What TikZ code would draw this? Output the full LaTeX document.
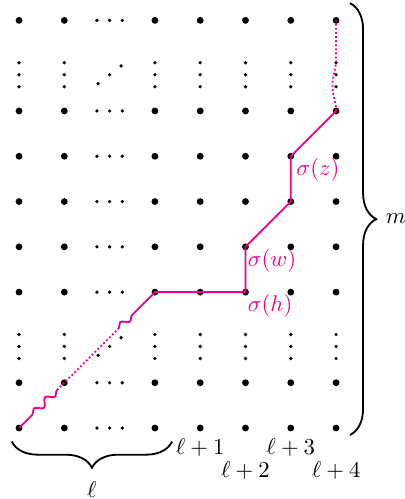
\documentclass[tikz,border=0pt]{standalone}
\usetikzlibrary{calc,decorations.pathmorphing,decorations.pathreplacing}
\definecolor{pathpink}{RGB}{236,0,140}

\begin{document}
\begin{tikzpicture}[x=0.7cm,y=0.7cm,
  pth/.style={thick,pathpink},
  wiggle/.style={decorate,decoration={snake,amplitude=1.5pt,segment length=7pt}},
  lbl/.style={pathpink,anchor=north west,inner sep=0.8pt},
  bracedown/.style={thick,decorate,decoration={brace,amplitude=11.5pt,mirror}},
  braceright/.style={thick,decorate,decoration={brace,amplitude=11.5pt}}]
\useasboundingbox (-0.42,-1.567) rectangle (8.50,9.45);
% grid points
\foreach \i in {0,...,7} {\foreach \j in {0,...,9} {\coordinate (p-\i-\j) at (\i,\j);}}
% big dots
\foreach \i in {0,1,3,4,5,6,7} {\foreach \j in {0,1,3,4,5,6,7,9} {\fill (p-\i-\j) circle (1.5pt);}}
% small dots standing for the missing rows and columns
\foreach \j in {0,1,3,4,5,6,7,9} {\foreach \d in {-1,0,1} {\fill ($(p-2-\j)+(\d*0.28,0)$) circle (0.8pt);}}
\foreach \i in {0,1,3,4,5,6,7} {\foreach \j in {2,8} {\foreach \d in {-1,0,1} {\fill ($(p-\i-\j)+(0,\d*0.265-0.2)$) circle (0.8pt);}}}
\foreach \j in {2,8} {\foreach \d in {-1,0,1} {\fill ($(p-2-\j)+(\d*0.254,\d*0.196-0.2)$) circle (0.8pt);}}
% the path
\coordinate (a1) at ($(p-0-0)!0.1!(p-3-3)$);
\coordinate (a2) at ($(p-0-0)!0.28!(p-3-3)$);
\coordinate (a3) at ($(p-0-0)!0.735!(p-3-3)$);
\coordinate (a4) at ($(p-0-0)!0.85!(p-3-3)$);
\draw[pth] (p-0-0) -- (a1);
\draw[pth,wiggle] (a1) -- (a2);
\draw[pth,densely dotted] (a2) -- (a3);
\draw[pth,wiggle] (a3) -- (a4);
\draw[pth] (a4) -- (p-3-3) -- (p-5-3) -- (p-5-4) -- (p-6-5) -- (p-6-6) -- (p-7-7);
\draw[pth,densely dotted,decorate,decoration={snake,amplitude=1.6pt,segment length=36pt}] (p-7-7) -- (p-7-9);
\node[lbl,xshift=1.5pt] (sz) at (p-6-6) {$\sigma(z)$};
\node[lbl] (sw) at (p-5-4) {$\sigma(w)$};
\node[lbl] (sh) at (p-5-3) {$\sigma(h)$};
% column labels
\node (c1) at ($(p-4-0)+(0,-0.44)$) {$\ell+1$};
\node (c2) at ($(p-5-0)+(0,-0.93)$) {$\ell+2$};
\node (c3) at ($(p-6-0)+(0,-0.44)$) {$\ell+3$};
\node (c4) at ($(p-7-0)+(0,-0.93)$) {$\ell+4$};
% braces
\coordinate (bl) at (-0.16,-0.30);
\coordinate (br) at (3.38,-0.30);
\draw[bracedown] (bl) -- (br) node[midway,below=14pt] (lw) {$\ell$};
\coordinate (rt) at (7.307,9.38);
\coordinate (rb) at (7.307,-0.155);
\draw[braceright] (rt) -- (rb) node[midway,right=12pt] (mh) {$m$};
\end{tikzpicture}
\end{document}
